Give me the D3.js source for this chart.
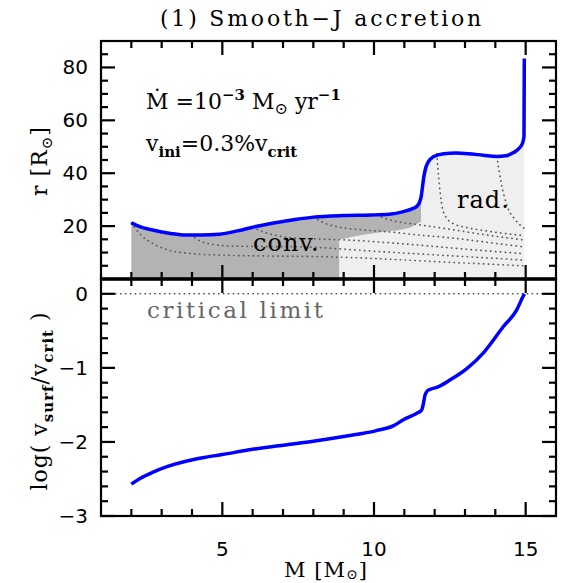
<!DOCTYPE html>
<html>
<head>
<meta charset="utf-8">
<script src="https://cdn.jsdelivr.net/npm/d3@7"></script>
<style>
  body { margin: 0; background: #fff; }
  text { font-family: "DejaVu Serif", serif; }
  .num { font-family: "DejaVu Sans", sans-serif; font-size: 20px; }
  .tick { fill: #000; stroke: none; }
</style>
</head>
<body>
<svg id="chart" width="565" height="583"></svg>
<script>
// ---- data ----

// stellar radius vs mass (top panel)
const radMass = [2.0, 2.3, 2.7, 3.3, 3.8, 4.3, 4.9, 5.5, 6.0, 6.6, 7.3, 8.0, 9.0, 9.9, 10.5, 10.97, 11.25, 11.41, 11.5, 11.56, 11.6, 11.64, 11.7, 11.8, 11.95, 12.3, 12.7, 13.1, 13.6, 14.05, 14.35, 14.6, 14.8, 14.9, 14.945, 14.955];
const radius  = [21.2, 19.7, 18.5, 17.2, 16.6, 16.6, 16.9, 18.2, 19.6, 21.0, 22.3, 23.4, 24.0, 24.2, 24.5, 25.5, 26.5, 27.5, 29.0, 31.5, 35.0, 38.5, 41.8, 44.5, 46.2, 47.4, 47.6, 47.4, 46.8, 46.3, 46.6, 47.8, 49.6, 51.5, 54.0, 83.4];

// base of the convective envelope (dark zone, right part)
const convMass = [8.85, 9.3, 9.8, 10.3, 10.86, 11.2, 11.55];
const convBase = [14.8, 16.0, 17.0, 17.8, 18.5, 19.5, 21.7];
const convStart = 8.85;    // convective core ends here
const radEnd = 14.95;      // end of the light "rad." zone

// iso-mass contours (dotted), one per enclosed mass
const contourLabels = [2, 4, 6, 8, 10, 12, 14];
const contourMass = [
  [2.0, 2.3, 2.7, 3.2, 4.0, 5.0, 6.5, 8.0, 9.5, 11.0, 12.5, 14.0, 14.9],
  [3.95, 4.3, 4.8, 5.5, 6.5, 8.0, 9.0, 10.0, 11.0, 12.5, 14.0, 14.9],
  [6.0, 6.4, 6.8, 7.5, 8.5, 9.5, 10.5, 11.5, 13.0, 14.9],
  [8.0, 8.4, 8.9, 9.5, 10.5, 11.5, 12.5, 13.5, 14.9],
  [10.1, 10.4, 10.8, 11.3, 11.8, 12.5, 13.5, 14.9],
  [12.07, 12.15, 12.3, 12.6, 13.05, 13.8, 14.9],
  [14.05, 14.2, 14.4, 14.65, 14.95]
];
const contourR = [
  [21.2, 16.8, 13.5, 11.0, 9.6, 9.0, 8.7, 8.5, 8.0, 7.2, 6.3, 5.5, 5.0],
  [16.6, 14.2, 12.9, 12.4, 12.3, 12.0, 11.3, 10.5, 9.8, 8.8, 7.8, 7.2],
  [19.6, 17.6, 16.4, 15.4, 15.0, 14.5, 13.7, 12.8, 11.3, 9.6],
  [23.4, 21.0, 19.5, 18.7, 17.8, 16.6, 15.6, 14.2, 12.2],
  [24.2, 22.8, 21.6, 20.8, 20.0, 18.8, 17.0, 14.8],
  [47.3, 36.0, 25.0, 21.0, 19.5, 18.0, 16.5],
  [46.3, 36.0, 27.3, 22.5, 19.2]
];

// log(v_surf / v_crit) vs mass (bottom panel)
const velMass = [2.0, 2.3, 2.7, 3.2, 3.8, 4.4, 5.0, 6.0, 7.07, 8.0, 9.1, 10.05, 10.65, 10.97, 11.4, 11.57, 11.63, 11.68, 11.76, 11.85, 12.09, 12.5, 13.06, 13.6, 14.26, 14.7, 14.92, 14.96];
const logVel  = [-2.57, -2.49, -2.41, -2.33, -2.26, -2.21, -2.17, -2.10, -2.04, -1.99, -1.92, -1.85, -1.78, -1.70, -1.615, -1.57, -1.48, -1.37, -1.31, -1.29, -1.26, -1.165, -1.01, -0.80, -0.445, -0.22, -0.03, 0.0];

// tick labels
const xMajor = [5, 10, 15];
const rMajor = [20, 40, 60, 80];
const vMajor = [0, -1, -2, -3];

// ---- layout ----
const L = 101, R = 556, T = 41, MID = 279, B = 516;
const MAJ = 14, MIN = 7;

const svg = d3.select("#chart");

const x  = d3.scaleLinear().domain([1, 16]).range([L, R]);
const yR = d3.scaleLinear().domain([0, 90]).range([MID, T]);
const yV = d3.scaleLinear().domain([-3, 0.2]).range([B, MID]);

svg.append("clipPath").attr("id", "ctop")
  .append("rect").attr("x", L).attr("y", T).attr("width", R - L).attr("height", MID - T);

// ---- top panel fills ----
const radPts = radMass.map((m, i) => [m, radius[i]]);
const interpR = d3.scaleLinear().domain(radMass).range(radius);
const gTop = svg.append("g").attr("clip-path", "url(#ctop)");

// light radiative zone: under the surface from convStart up to the spike
const lightPoly = [[convStart, 0], [convStart, interpR(convStart)]]
  .concat(radPts.filter(d => d[0] > convStart && d[0] <= 14.945))
  .concat([[radEnd, 54.0], [radEnd, 0]]);
gTop.append("path")
  .attr("d", d3.line().x(d => x(d[0])).y(d => yR(d[1]))(lightPoly))
  .attr("fill", "#efefef");

// dark convective zone
const surfDark = radPts.filter(d => d[0] <= 11.55).concat([[11.55, interpR(11.55)]]);
const baseDark = convMass.map((m, i) => [m, convBase[i]]).reverse();
const darkPoly = surfDark.concat(baseDark).concat([[convStart, 0], [2.0, 0]]);
gTop.append("path")
  .attr("d", d3.line().x(d => x(d[0])).y(d => yR(d[1]))(darkPoly))
  .attr("fill", "#b3b3b3");

// dotted iso-mass contours
contourLabels.forEach((m, k) => {
  const pts = contourMass[k].map((mm, i) => [mm, contourR[k][i]]);
  gTop.append("path")
    .attr("d", d3.line().x(d => x(d[0])).y(d => yR(d[1])).curve(d3.curveMonotoneX)(pts))
    .attr("fill", "none")
    .attr("stroke", "#5a5a5a")
    .attr("stroke-width", 1.7)
    .attr("stroke-linecap", "round")
    .attr("stroke-dasharray", "0.3 4.6");
});

// surface radius
svg.append("path")
  .attr("d", d3.line().x(d => x(d[0])).y(d => yR(d[1])).curve(d3.curveMonotoneX)(radPts))
  .attr("fill", "none")
  .attr("stroke", "#0000ff")
  .attr("stroke-width", 3.5);

svg.append("text").attr("x", 253).attr("y", 251).attr("font-size", 24)
  .attr("letter-spacing", 1).text("conv.");
svg.append("text").attr("x", 457).attr("y", 208).attr("font-size", 24)
  .attr("letter-spacing", 1).text("rad.");

// ---- bottom panel ----
svg.append("line")
  .attr("x1", L).attr("x2", R).attr("y1", yV(0)).attr("y2", yV(0))
  .attr("stroke", "#444").attr("stroke-width", 1.6)
  .attr("stroke-linecap", "round")
  .attr("stroke-dasharray", "0.3 4.6");

svg.append("text").attr("x", 147).attr("y", 318).attr("font-size", 23)
  .attr("letter-spacing", 2.6).attr("fill", "#666").text("critical limit");

svg.append("path")
  .attr("d", d3.line().x((d, i) => x(velMass[i])).y(d => yV(d)).curve(d3.curveMonotoneX)(logVel))
  .attr("fill", "none")
  .attr("stroke", "#0000ff")
  .attr("stroke-width", 3.5);

// ---- frames & tick labels ----
const xMinor = d3.range(2, 16).filter(v => !xMajor.includes(v));
const rMinor = d3.range(5, 90, 5).filter(v => v % 20 !== 0);
const vMinor = d3.range(-2.8, 0.2, 0.2).filter(v => Math.abs(v - Math.round(v)) > 0.05);

const panels = [
  { y: yR, maj: rMajor, min: rMinor, y0: T, y1: MID },
  { y: yV, maj: vMajor, min: vMinor, y0: MID, y1: B }
];

panels.forEach(p => {
  svg.append("rect").attr("x", L).attr("y", p.y0).attr("width", R - L).attr("height", p.y1 - p.y0)
    .attr("fill", "none").attr("stroke", "#000").attr("stroke-width", 2.2);

  svg.append("g").selectAll("text").data(p.maj).join("text")
    .attr("class", "num")
    .attr("x", L - 13).attr("y", v => p.y(v) + 7)
    .attr("text-anchor", "end")
    .text(v => String(v).replace("-", "\u2212"));
});

svg.append("g").selectAll("text").data(xMajor).join("text")
  .attr("class", "num")
  .attr("x", v => x(v)).attr("y", 556)
  .attr("text-anchor", "middle")
  .text(v => v);

svg.append("line").attr("x1", L - 1).attr("x2", R + 1).attr("y1", MID).attr("y2", MID)
  .attr("stroke", "#000").attr("stroke-width", 3.5);

// ---- texts ----
svg.append("text").attr("x", 322).attr("y", 26).attr("text-anchor", "middle")
  .attr("font-size", 22).attr("letter-spacing", 2.8).text("(1) Smooth\u2212J accretion");

const xl = svg.append("text").attr("x", 326).attr("y", 577).attr("text-anchor", "middle")
  .attr("font-size", 21).attr("letter-spacing", 1);
xl.append("tspan").text("M [M");
xl.append("tspan").attr("font-size", 14).attr("dy", 2).text("\u2299");
xl.append("tspan").attr("dy", -2).text("]");

const yl1 = svg.append("text").attr("transform", "translate(47,161) rotate(-90)")
  .attr("text-anchor", "middle").attr("font-size", 22).attr("letter-spacing", 1);
yl1.append("tspan").text("r [R");
yl1.append("tspan").attr("font-size", 15).attr("dy", 5).text("\u2299");
yl1.append("tspan").attr("dy", -5).text("]");

const yl2 = svg.append("text").attr("transform", "translate(47,401) rotate(-90)")
  .attr("text-anchor", "middle").attr("font-size", 22).attr("letter-spacing", 1);
yl2.append("tspan").text("log( v");
yl2.append("tspan").attr("font-size", 15).attr("font-weight", "bold").attr("dy", 6).text("surf");
yl2.append("tspan").attr("dy", -6).text("/v");
yl2.append("tspan").attr("font-size", 15).attr("font-weight", "bold").attr("dy", 6).text("crit");
yl2.append("tspan").attr("dy", -6).text(" )");

const a1 = svg.append("text").attr("x", 146).attr("y", 109).attr("font-size", 22);
a1.append("tspan").text("\u1E40  =10");
a1.append("tspan").attr("font-size", 15).attr("font-weight", "bold").attr("dy", -9).text("\u22123");
a1.append("tspan").attr("dy", 9).text(" M");
a1.append("tspan").attr("font-size", 16).attr("dy", 5).text("\u2299");
a1.append("tspan").attr("dy", -5).text(" yr");
a1.append("tspan").attr("font-size", 15).attr("font-weight", "bold").attr("dy", -9).text("\u22121");

const a2 = svg.append("text").attr("x", 146).attr("y", 151).attr("font-size", 22);
a2.append("tspan").text("v");
a2.append("tspan").attr("font-size", 15).attr("font-weight", "bold").attr("dy", 6).text("ini");
a2.append("tspan").attr("dy", -6).text("=0.3%v");
a2.append("tspan").attr("font-size", 15).attr("font-weight", "bold").attr("dy", 6).text("crit");

// ---- inward ticks, drawn last on top of everything ----
const tickG = svg.append("g").attr("id", "ticks");
const tk = (x0, y0, w, h) => {
  tickG.node().appendChild(document.createElementNS("http://www.w3.org/2000/svg", "rect"));
  d3.select(tickG.node().lastChild)
    .attr("class", "tick")
    .attr("x", x0).attr("y", y0).attr("width", w).attr("height", h)
    .style("fill", "#000");
};
panels.forEach(p => {
  p.min.forEach(v => { tk(L, p.y(v) - 1.1, MIN, 2.2); tk(R - MIN, p.y(v) - 1.1, MIN, 2.2); });
  p.maj.forEach(v => { tk(L, p.y(v) - 1.1, MAJ, 2.2); tk(R - MAJ, p.y(v) - 1.1, MAJ, 2.2); });
  xMinor.forEach(v => { tk(x(v) - 1.1, p.y0, 2.2, MIN); tk(x(v) - 1.1, p.y1 - MIN, 2.2, MIN); });
  xMajor.forEach(v => { tk(x(v) - 1.1, p.y0, 2.2, MAJ); tk(x(v) - 1.1, p.y1 - MAJ, 2.2, MAJ); });
});
</script>
</body>
</html>
